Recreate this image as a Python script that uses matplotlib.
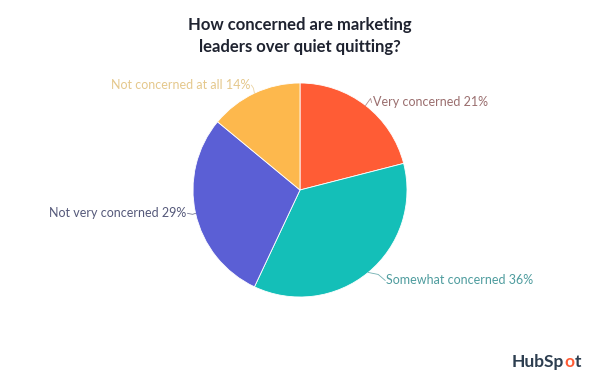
import matplotlib
matplotlib.use("Agg")
import matplotlib.pyplot as plt
import numpy as np

categories = ["Very concerned", "Somewhat concerned", "Not very concerned", "Not concerned at all"]
values = [21, 36, 29, 14]
colors = ["#FF5C35", "#14BFB8", "#5B5FD5", "#FDB84D"]
label_colors = ["#9A6E6E", "#4E9C9E", "#55597A", "#E5C88C"]

W, H = 600, 383
fig = plt.figure(figsize=(6, 3.83), dpi=100)
ax = fig.add_axes([0, 0, 1, 1])

cx, cy, R = 300, 193, 107
wedges, _ = ax.pie(values, colors=colors, startangle=90, counterclock=False,
                   center=(cx, cy), radius=R, frame=True,
                   wedgeprops=dict(edgecolor="white", linewidth=0.6))
ax.set_xlim(0, W)
ax.set_ylim(0, H)
ax.set_aspect("equal")
ax.axis("off")

fam = ["Lato", "DejaVu Sans"]
text_off = [(6, 3), (17, -8), (-8, 0), (-3, 8)]
leader_mid = [(5, 7), (10, -2), (-3, -1), (-1, 5)]
aligns = ["left", "left", "right", "right"]

for w, cat, v, lc, off, mid, ha in zip(wedges, categories, values, label_colors, text_off, leader_mid, aligns):
    ang = np.deg2rad((w.theta1 + w.theta2) / 2)
    ex, ey = cx + R * np.cos(ang), cy + R * np.sin(ang)
    tx, ty = ex + off[0], ey + off[1]
    ax.plot([ex, ex + mid[0], tx], [ey, ey + mid[1], ty], color=lc, lw=0.6, alpha=0.8)
    ax.text(tx + (1 if ha == "left" else -1), ty, f"{cat} {v}%", ha=ha, va="center",
            fontsize=9, color=lc, family=fam)

ax.text(300, 383 - 36, "How concerned are marketing\nleaders over quiet quitting?",
        ha="center", va="center", fontsize=12, fontweight="bold", color="#1f2330",
        family=fam, linespacing=1.45)

t1 = ax.text(512, 383 - 362, "HubSp", ha="left", va="center", fontsize=12.5,
             fontweight="bold", color="#2D3E50", family=fam)
t2 = ax.annotate("o", xy=(1, 0), xycoords=t1, ha="left", va="bottom", fontsize=12.5,
                 fontweight="bold", color="#FF5C35", family=fam)
ax.annotate("t", xy=(1, 0), xycoords=t2, ha="left", va="bottom", fontsize=12.5,
            fontweight="bold", color="#2D3E50", family=fam)

fig.savefig("out.png", dpi=100, facecolor="white")
